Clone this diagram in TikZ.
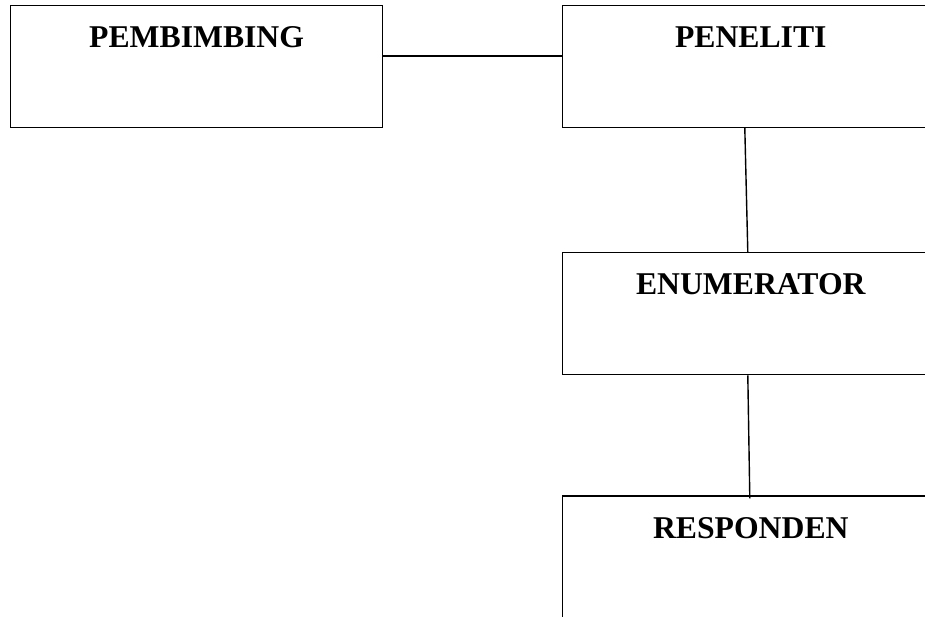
\documentclass[tikz,border=0pt]{standalone}
\usepackage{fontspec}
\setmainfont{Liberation Serif}
\usetikzlibrary{positioning}
\tikzset{
  box/.style={draw, line width=1.2pt, inner xsep=0pt, inner ysep=0pt,
    minimum width=376pt, text height=42pt, text depth=80pt,
    font=\fontsize{31.7}{36}\selectfont\bfseries},
  link/.style={line width=1.4pt}
}
\begin{document}
\begin{tikzpicture}[x=1pt,y=-1pt]
\useasboundingbox (0,0) rectangle (925,616);
\clip (0,0) rectangle (925,616);
\node[box, minimum width=372pt, anchor=north west] (pembimbing) at (10,5) {PEMBIMBING};
\node[box, right=179pt of pembimbing] (peneliti) {PENELITI};
\node[box, below=124pt of peneliti] (enumerator) {ENUMERATOR};
\node[box, below=120pt of enumerator] (responden) {RESPONDEN};
% garis penghubung
\draw[line width=2.4pt] ([yshift=10.5pt]pembimbing.east) -- ([yshift=10.5pt]peneliti.west);
\draw[link] ([xshift=-6pt]peneliti.south) -- ([xshift=-3pt]enumerator.north);
\draw[link] ([xshift=-3pt]enumerator.south) -- ([xshift=-1pt,yshift=-3pt]responden.north);
\end{tikzpicture}
\end{document}
